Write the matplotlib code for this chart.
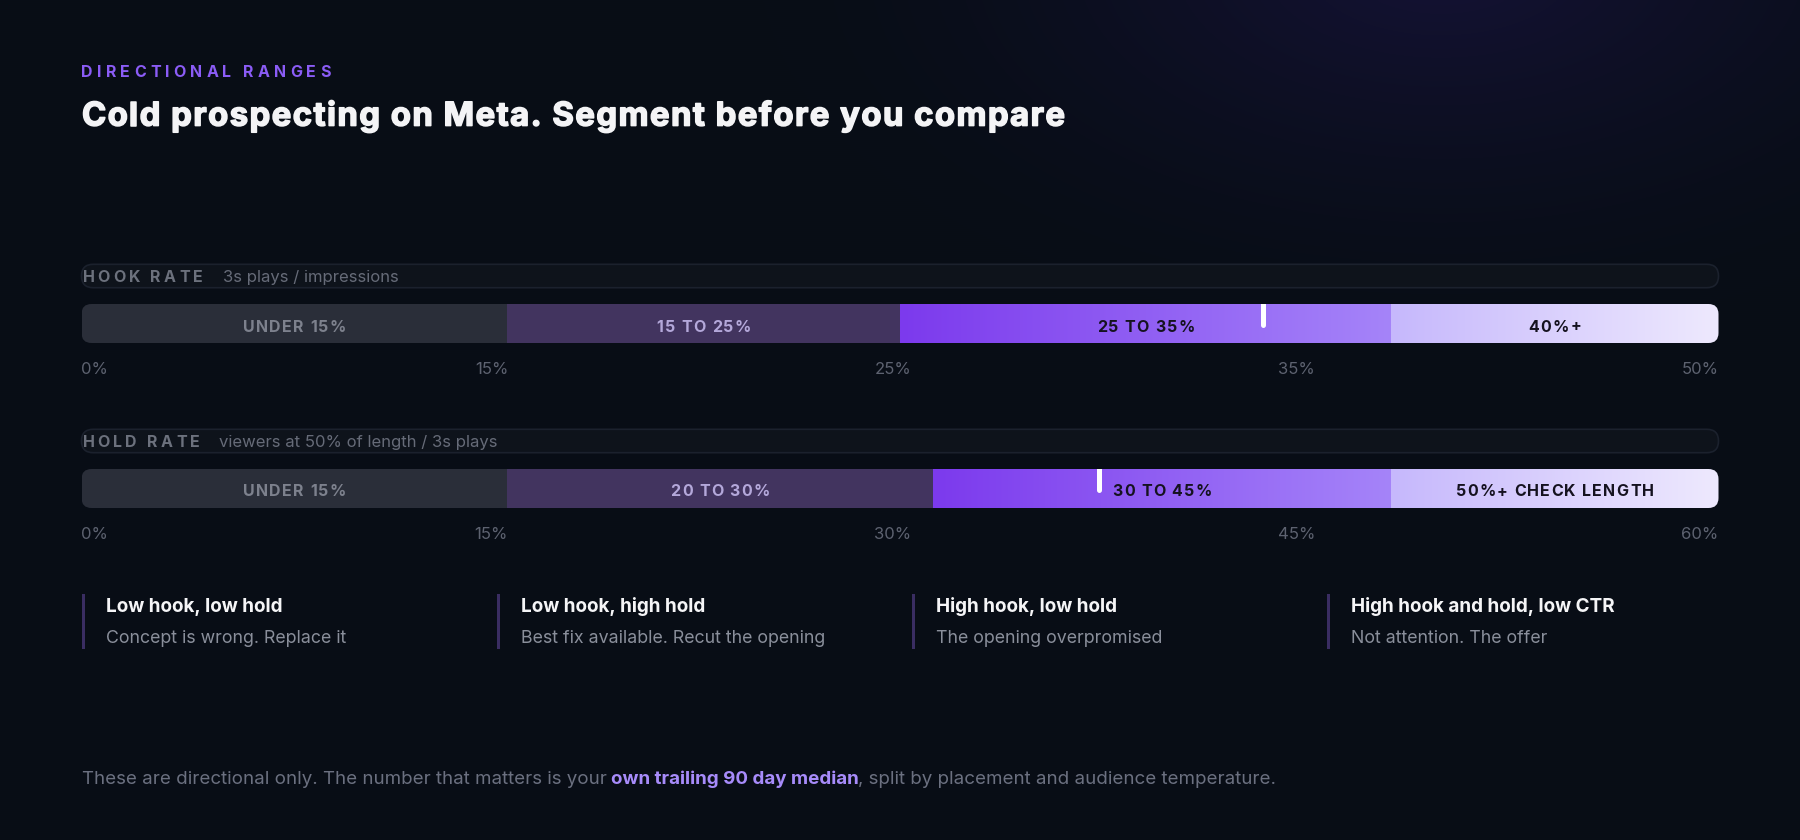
import numpy as np
import matplotlib
matplotlib.use("Agg")
import matplotlib.pyplot as plt
from matplotlib.patches import FancyBboxPatch, Rectangle
from matplotlib.font_manager import FontProperties
from matplotlib.textpath import TextToPath
from matplotlib.colors import LinearSegmentedColormap, to_rgb
import matplotlib.transforms as mtransforms
import matplotlib.patheffects as pe

# ---------------- data ----------------
eyebrow = "DIRECTIONAL RANGES"
title = "Cold prospecting on Meta. Segment before you compare"

metric_names = ["HOOK RATE", "HOLD RATE"]
metric_desc = ["3s plays / impressions", "viewers at 50% of length / 3s plays"]

hook_max = 50
hook_edges = [0, 13, 25, 40, 50]
hook_labels = ["UNDER 15%", "15 TO 25%", "25 TO 35%", "40%+"]
hook_ticks = ["0%", "15%", "25%", "35%", "50%"]
hook_marker = 36.1

hold_max = 60
hold_edges = [0, 15.6, 31.2, 48, 60]
hold_labels = ["UNDER 15%", "20 TO 30%", "30 TO 45%", "50%+ CHECK LENGTH"]
hold_ticks = ["0%", "15%", "30%", "45%", "60%"]
hold_marker = 37.3

card_titles = ["Low hook, low hold", "Low hook, high hold", "High hook, low hold",
               "High hook and hold, low CTR"]
card_notes = ["Concept is wrong. Replace it", "Best fix available. Recut the opening",
              "The opening overpromised", "Not attention. The offer"]

footer_parts = ["These are directional only. The number that matters is your ",
                "own trailing 90 day median",
                ", split by placement and audience temperature."]

# ---------------- style ----------------
W, H, DPI = 1800, 840, 100
FAM = ["Inter", "DejaVu Sans"]
BG = "#080d16"
X0, X1 = 81.5, 1718.5
BW = X1 - X0

tier_styles = [
    dict(kind="flat", c="#2a2e39", tc="#7d818d"),
    dict(kind="flat", c="#42345f", tc="#b4a8da"),
    dict(kind="grad", c=("#7c3aed", "#a584f9"), tc="#15121f"),
    dict(kind="grad", c=("#c6b8fc", "#eee9fe"), tc="#15121f"),
]

plt.rcParams["font.family"] = FAM
fig = plt.figure(figsize=(W / DPI, H / DPI), dpi=DPI, facecolor=BG)
bg = fig.add_axes([0, 0, 1, 1])
bg.set_xlim(0, W)
bg.set_ylim(H, 0)
bg.axis("off")
bg.set_facecolor(BG)

# background glow (top right)
yy, xx = np.mgrid[0:H:2, 0:W:2]
d = ((xx - 1440) / 680.0) ** 2 + ((yy + 40) / 370.0) ** 2
alpha = np.clip(1 - np.sqrt(d), 0, 1) ** 1.5 * 0.7
glow = np.array(to_rgb("#1a1543"))
base = np.array(to_rgb(BG))
img = base[None, None, :] * (1 - alpha[..., None]) + glow[None, None, :] * alpha[..., None]
bg.imshow(img, extent=(0, W, H, 0), zorder=0, interpolation="bilinear", aspect="auto")

t2p = TextToPath()


def text_w(s, fp):
    if s == "":
        return 0.0
    w1 = t2p.get_text_width_height_descent("H" + s + "H", fp, ismath=False)[0]
    w0 = t2p.get_text_width_height_descent("HH", fp, ismath=False)[0]
    return (w1 - w0) * DPI / 72.0


def spaced(ax, x, y, s, fp, track, color, ha="left", transform=None, zorder=5, effects=None):
    """Draw text with letter spacing (px), keeping kerning via prefix widths."""
    transform = transform if transform is not None else ax.transData
    pre = [text_w(s[:k], fp) for k in range(len(s) + 1)]
    total = pre[-1] + track * (len(s) - 1)
    off0 = {"left": 0.0, "center": -total / 2.0, "right": -total}[ha]
    for k, c in enumerate(s):
        if c != " ":
            off = off0 + pre[k] + track * k
            tr = transform + mtransforms.ScaledTranslation(off / DPI, 0, fig.dpi_scale_trans)
            t = ax.text(x, y, c, fontproperties=fp, color=color, ha="left", va="baseline",
                        transform=tr, zorder=zorder)
            if effects:
                t.set_path_effects(effects)
    return total


def fp(size, weight="normal"):
    return FontProperties(family=FAM, size=size, weight=weight)


# eyebrow
fe = fp(11.5, "bold")
spaced(bg, X0, 76.7, eyebrow, fe, (249 - text_w(eyebrow, fe)) / (len(eyebrow) - 1), "#8b5cf6")

# title: bold + thin stroke for extra weight, tracking fitted to width
ft = fp(23.6, "bold")
TITLE_C = "#f4f4f6"
spaced(bg, X0 + 0.5, 125.6, title, ft, (983 - text_w(title, ft)) / (len(title) - 1), TITLE_C,
       effects=[pe.withStroke(linewidth=1.1, foreground=TITLE_C)])

# ---------------- metric bars ----------------
metrics = [
    (hook_max, hook_edges, hook_labels, hook_ticks, hook_marker),
    (hold_max, hold_edges, hold_labels, hold_ticks, hold_marker),
]
DY = 165.0
f_head = fp(11.5, "bold")
f_desc = fp(12, "normal")
f_seg = fp(11.5, "bold")
f_tick = fp(12, "normal")

for i, (vmax, edges, labels, ticks, marker) in enumerate(metrics):
    oy = i * DY
    # header pill
    pill = FancyBboxPatch((X0, 264.3 + oy), BW, 23.4,
                          boxstyle="round,pad=0,rounding_size=11.7",
                          fc="#0e131b", ec="#1b212d", lw=1.2, zorder=2)
    bg.add_patch(pill)
    lw_ = spaced(bg, X0 + 1, 282.3 + oy, metric_names[i], f_head, 3.2, "#6c717d")
    bg.text(X0 + 1 + lw_ + 20, 282.3 + oy, metric_desc[i], fontproperties=f_desc,
            color="#666b78", va="baseline", ha="left", zorder=5)

    # bar
    top, bh = 304.0 + oy, 39.0
    ax = fig.add_axes([X0 / W, 1 - (top + bh) / H, BW / W, bh / H])
    ax.axis("off")
    clip = FancyBboxPatch((X0, top), BW, bh, boxstyle="round,pad=0,rounding_size=10",
                          transform=bg.transData, fc="none", ec="none")
    tr = mtransforms.blended_transform_factory(ax.transData, bg.transData)
    for k in range(len(labels)):
        l, r = edges[k], edges[k + 1]
        st = tier_styles[k]
        if st["kind"] == "flat":
            b = ax.barh(0.5, r - l, left=l, height=1.0, color=st["c"], lw=0)
            for p in b:
                p.set_clip_path(clip)
        else:
            cm = LinearSegmentedColormap.from_list("g%d" % k, list(st["c"]))
            im = ax.imshow(np.linspace(0, 1, 256)[None, :], extent=(l, r, 0, 1),
                           aspect="auto", cmap=cm, interpolation="bilinear")
            im.set_clip_path(clip)
        spaced(ax, (l + r) / 2.0, top + 27.5, labels[k], f_seg, 1.25, st["tc"],
               ha="center", transform=tr)
    ln, = ax.plot([marker, marker], [1.05, 0.46], color="white", lw=3.6,
                  solid_capstyle="round", zorder=6)
    ln.set_clip_path(clip)
    ax.set_xlim(0, vmax)
    ax.set_ylim(0, 1)

    # tick labels (space-between)
    tws = [text_w(t, f_tick) for t in ticks]
    gap = (BW - sum(tws)) / (len(ticks) - 1)
    x = X0
    for t, w in zip(ticks, tws):
        bg.text(x, 374.0 + oy, t, fontproperties=f_tick, color="#5d6270",
                ha="left", va="baseline")
        x += w + gap

# ---------------- cards ----------------
f_ct = fp(13.6, "bold")
f_cn = fp(12.8, "normal")
for j, (ct, cn) in enumerate(zip(card_titles, card_notes)):
    cx = X0 + j * 415.2
    bg.add_patch(Rectangle((cx, 594), 3, 55.3, fc="#3a2d62", ec="none", zorder=3))
    bg.text(cx + 24, 612.3, ct, fontproperties=f_ct, color="#f5f5f7", va="baseline")
    bg.text(cx + 24, 643.3, cn, fontproperties=f_cn, color="#8a8f9b", va="baseline")

# ---------------- footer ----------------
f_fr = fp(13.5, "normal")
f_fb = fp(13.5, "bold")
x = X0
for k, part in enumerate(footer_parts):
    f_ = f_fb if k == 1 else f_fr
    col = "#a78bfa" if k == 1 else "#6b7080"
    bg.text(x, 784.3, part, fontproperties=f_, color=col, va="baseline", ha="left")
    x += text_w(part, f_)

fig.savefig("out.png", dpi=DPI, facecolor=BG)
